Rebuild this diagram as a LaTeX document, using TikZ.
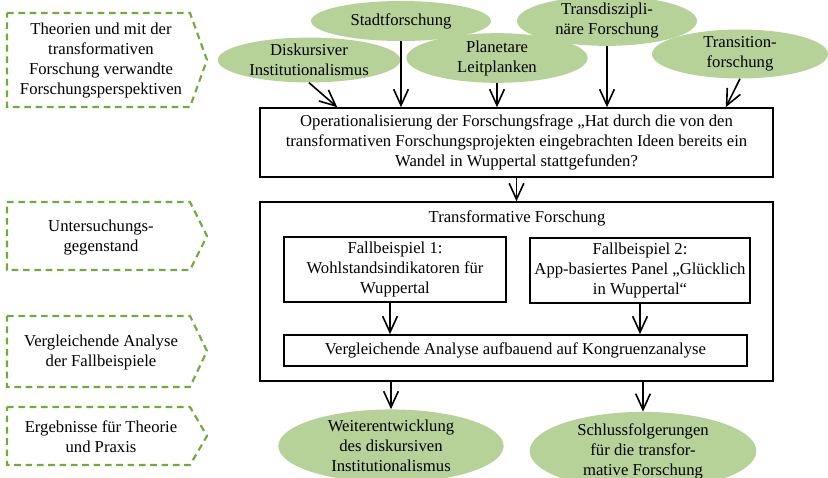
\documentclass[tikz,border=0pt]{standalone}
\usepackage{fontspec}
\setmainfont{Liberation Serif}
\usetikzlibrary{shapes.geometric}
\usetikzlibrary{arrows.meta}
\definecolor{leafgreen}{RGB}{182,210,153}
\definecolor{dashgreen}{RGB}{110,172,60}

\begin{document}
\begin{tikzpicture}[x=0.75pt,y=-0.75pt,
    every node/.style={font=\fontsize{12.5}{15}\selectfont, align=center},
    field/.style={ellipse, fill=leafgreen, inner sep=0pt},
    frame/.style={draw, line width=1.2pt, inner sep=0pt},
    stage/.style={draw=dashgreen, line width=1.6pt, dash pattern=on 5pt off 3.5pt},
    flow/.style={-{Straight Barb[length=12pt,width=11pt]}, line width=1.2pt}]
    \useasboundingbox (0,0) rectangle (828,478);

    % left column: stages
    \draw[stage] (7,13) -- (190,13) -- (207,60) -- (190,107) -- (7,107) -- cycle;
    \draw[stage] (7,202) -- (190,202) -- (207,236) -- (190,270) -- (7,270) -- cycle;
    \draw[stage] (7,316) -- (190,316) -- (207,351) -- (190,387) -- (7,387) -- cycle;
    \draw[stage] (7,407) -- (190,407) -- (207,436) -- (190,465) -- (7,465) -- cycle;
    \node (theorien) at (101,61) {Theorien und mit der\\transformativen\\Forschung verwandte\\Forschungsperspektiven};
    \node (gegenstand) at (101,238) {Untersuchungs-\\gegenstand};
    \node (vergleich) at (101,352) {Vergleichende Analyse\\der Fallbeispiele};
    \node (ergebnisse) at (101,437) {Ergebnisse f\"ur Theorie\\und Praxis};

    % research perspectives
    \node[field, minimum width=135pt, minimum height=30pt] (stadt) at (401,21) {Stadtforschung};
    \node[field, minimum width=137pt, minimum height=32pt] (disk) at (309,60) {Diskursiver\\Institutionalismus};
    \node[field, minimum width=136pt, minimum height=32pt] (planet) at (497,58) {Planetare\\Leitplanken};
    \node[field, minimum width=135pt, minimum height=30pt] (transd) at (607,21) {Transdiszipli-\\n\"are Forschung};
    \node[field, minimum width=132pt, minimum height=30pt] (transi) at (740,54) {Transition-\\forschung};

    % question and case studies
    \node[frame, minimum width=384.75pt, minimum height=51.75pt] (frage) at (516.5,142.5)
      {Operationalisierung der Forschungsfrage \quotedblbase Hat durch die von den\\transformativen Forschungsprojekten eingebrachten Ideen bereits ein\\Wandel in Wuppertal stattgefunden?};
    \node[frame, minimum width=384.75pt, minimum height=134.25pt] (trafo) at (516.5,291.5) {};
    \node (trafotitel) at (517,218) {Transformative Forschung};
    \node[frame, minimum width=166.5pt, minimum height=48.75pt] (fall1) at (395,269.5)
      {Fallbeispiel 1:\\Wohlstandsindikatoren f\"ur\\Wuppertal};
    \node[frame, minimum width=165pt, minimum height=48.75pt] (fall2) at (640,270.5)
      {Fallbeispiel 2:\\App-basiertes Panel \quotedblbase Gl\"ucklich\\in Wuppertal\textquotedblleft};
    \node[frame, minimum width=347.25pt, minimum height=23.25pt] (analyse) at (515.5,350.5)
      {Vergleichende Analyse aufbauend auf Kongruenzanalyse};

    % results
    \node[field, minimum width=169pt, minimum height=52pt] (weiter) at (391,446)
      {Weiterentwicklung\\des diskursiven\\Institutionalismus};
    \node[field, minimum width=170pt, minimum height=57pt] (schluss) at (643,451)
      {Schlussfolgerungen\\f\"ur die transfor-\\mative Forschung};

    % arrows
    \draw[flow] (disk.south) -- ([xshift=58.5pt]frage.north west);
    \draw[flow] (stadt.south) -- (stadt.south |- frage.north);
    \draw[flow] (planet.south) -- (planet.south |- frage.north);
    \draw[flow] (transd.south) -- (transd.south |- frage.north);
    \draw[flow] (transi.south) -- ([xshift=-36pt]frage.north east);
    \draw[flow] (frage.south) -- (trafo.north);
    \draw[flow] ([xshift=-3.75pt]fall1.south) -- ([xshift=-3.75pt]fall1.south |- analyse.north);
    \draw[flow] (fall2.south) -- (fall2.south |- analyse.north);
    \draw[flow] (weiter |- trafo.south) -- (weiter.north);
    \draw[flow] (schluss |- trafo.south) -- (schluss.north);
  \end{tikzpicture}
\end{document}
